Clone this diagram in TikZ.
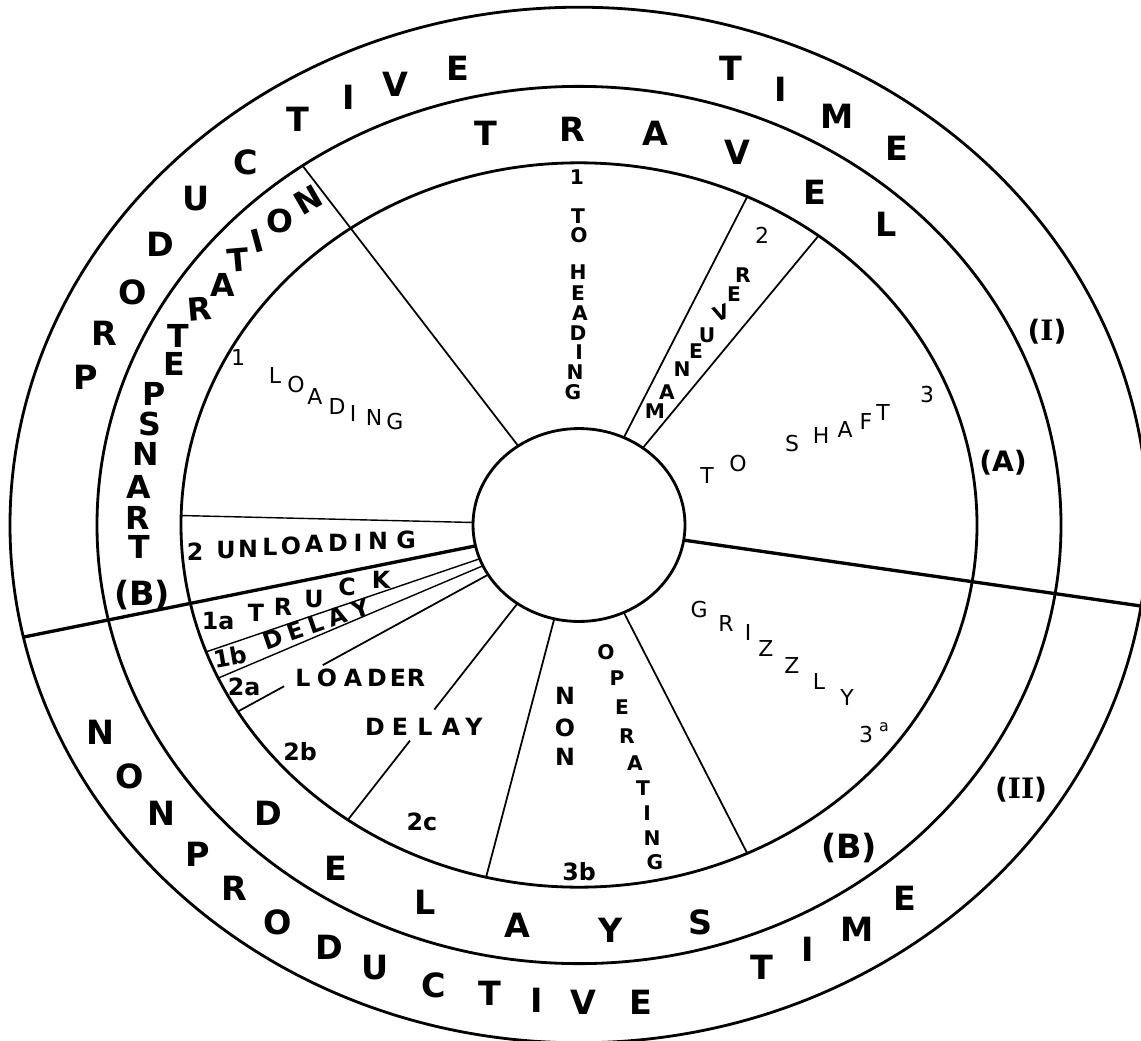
\documentclass[tikz,border=0pt]{standalone}
\usepackage{fontspec}
\setmainfont{DejaVu Sans}
\newfontfamily\romanfont{DejaVu Serif}

\begin{document}
\begin{tikzpicture}[
  x=0.02cm,y=0.02cm,
  ring/.style={line width=1.6pt},
  spoke/.style={line width=1pt},
  split/.style={line width=1.9pt},
  big/.style={font=\fontsize{19}{19}\selectfont\bfseries,inner sep=0pt},
  tall/.style={font=\fontsize{18}{18}\selectfont\bfseries,inner sep=0pt},
  tag/.style={font=\fontsize{16}{16}\selectfont\bfseries,inner sep=0pt},
  lbl/.style={font=\fontsize{13.5}{13.5}\selectfont\bfseries,inner sep=0pt},
  lbls/.style={font=\fontsize{11.5}{11.5}\selectfont\bfseries,inner sep=0pt},
  lbln/.style={font=\fontsize{12.5}{12.5}\selectfont,inner sep=0pt}
]
\path[fill=white,use as bounding box] (0,0) rectangle (1141,-1040);

% rings and spokes
\begin{scope}[shift={(579,-525)},yscale=.91]
\draw[ring] (0,0) circle (106);
\draw[ring] (0,0) circle (398);
\draw[ring] (0,0) circle (482);
\draw[ring] (0,0) circle (569);
\draw[split] (-9:106) -- (-9:569);
\draw[split] (192.5:106) -- (192.5:569);
\draw[spoke] (125:106) -- (125:482);
\foreach \a in {65,53,295,256.5}
  \draw[spoke] (\a:106) -- (\a:398);
\foreach \a in {178.5,200.5,205}
  \draw[spoke,line width=.8pt] (\a:106) -- (\a:398);
\draw[spoke] (211:106) -- (211:299) (211:344) -- (211:398);
\draw[spoke] (234.5:106) -- (234.5:249) (234.5:291) -- (234.5:398);
\end{scope}

% outer ring
\foreach \ch/\x/\y [count=\i] in {P/86/377,R/104/333,O/133/292,D/160/244,U/196/199,C/246/162,T/298/119,I/349/97,V/395/84,E/458/68,T/731/68,I/781/89,M/837/116,E/897/148}
  \node[big] (prod\i) at (\x,-\y) {\ch};
\foreach \ch/\x/\y [count=\i] in {N/100/732,O/130/776,N/161/813,P/198/854,R/234/888,O/278/922,D/329/947,U/375/968,C/434/985,T/490/993,I/537/1000,V/583/1002,E/641/1002,T/762/967,I/808/949,M/857/929,E/905/898}
  \node[big] (nonprod\i) at (\x,-\y) {\ch};
\node[tag] (one) at (1047,-332) {({\romanfont\bfseries I})};
\node[tag] (two) at (1021,-790) {({\romanfont\bfseries II})};

% middle ring
\foreach \ch/\x/\y [count=\i] in {T/486/133,R/572/129,A/655/133,V/737/152,E/815/192,L/886/224}
  \node[big] (travel\i) at (\x,-\y) {\ch};
\foreach \ch/\x/\y [count=\i] in {D/268/813,E/336/868,L/425/902,A/517/925,Y/611/930,S/701/922}
  \node[big] (delays\i) at (\x,-\y) {\ch};
\foreach \ch/\x/\y [count=\i] in {P/154/394,S/150/424,N/146/454,A/139/487,R/138/518,T/139/547}
  \node[tall] (pen\i) at (\x,-\y) {\ch};
\foreach \ch/\x/\y/\r [count=\i] in {E/174/364/0,T/178/336/0,R/200/309/5,A/223/285/0,T/238/260/5,I/257/241/15,O/280/221/0,N/308/200/30}
  \node[tall,rotate=\r] (etr\i) at (\x,-\y) {\ch};
\node[tag] (tagA) at (1003,-463) {(A)};
\node[big] (tagBl) at (142,-595) {(B)};
\node[big] (tagBr) at (849,-848) {(B)};

% inner sectors
\foreach \ch/\x/\y [count=\i] in {1/238/357,L/275/375,O/296/385,A/315/396,D/337/406,I/353/413,N/374/417,G/395/422}
  \node[lbln] (load\i) at (\x,-\y) {\ch};
\foreach \ch/\x/\y [count=\i] in {1/577/177,T/578/216,O/579/235,H/578/272,E/578/293,A/580/313,D/578/333,I/579/352,N/575/372,G/573/392}
  \node[lbls] (head\i) at (\x,-\y) {\ch};
\node[lbln] (mannum) at (762,-235) {2};
\foreach \ch/\x/\y/\r [count=\i] in {M/655/411/0,A/667/392/0,N/682/369/0,E/696/351/0,U/707/335/0,V/721/313/20,E/734/294/0,R/743/275/0}
  \node[lbls,rotate=\r] (man\i) at (\x,-\y) {\ch};
\foreach \ch/\x/\y [count=\i] in {T/707/475,O/738/464,S/792/444,H/821/435,A/845/429,F/866/421,T/883/412,3/927/395}
  \node[lbln] (shaft\i) at (\x,-\y) {\ch};
\foreach \ch/\x/\y [count=\i] in {G/699/609,R/726/623,I/748/632,Z/766/648,Z/792/665,L/819/681,Y/847/697,3/866/734}
  \node[lbln] (griz\i) at (\x,-\y) {\ch};
\node[lbln,font=\fontsize{9}{9}\selectfont] (grizsup) at (884,-727) {a};
\foreach \ch/\x/\y [count=\i] in {N/565/696,O/565/728,N/565/757}
  \node[lbl] (non\i) at (\x,-\y) {\ch};
\foreach \ch/\x/\y [count=\i] in {O/606/652,P/617/678,E/622/707,R/627/736,A/635/763,T/643/788,I/647/813,N/652/838,G/655/862}
  \node[lbls] (oper\i) at (\x,-\y) {\ch};
\node[lbl] (threeb) at (579,-872) {3b};
\node[lbl] (twoc) at (422,-822) {2c};
\node[lbl] (twob) at (300,-752) {2b};
\foreach \ch/\x/\y [count=\i] in {D/375/727,E/400/727,L/425/727,A/451/727,Y/474/727}
  \node[lbl] (ldelay\i) at (\x,-\y) {\ch};
\foreach \ch/\x/\y [count=\i] in {L/303/678,O/327/678,A/353/678,D/377/678,E/398/678,R/416/678}
  \node[lbl] (loader\i) at (\x,-\y) {\ch};
\node[lbl] (twoa) at (244,-687) {2a};
\node[lbl,rotate=10] (oneb) at (230,-657) {1b};
\node[lbl,rotate=19] (tdelay) at (316,-624) {D\hspace{3.5pt}E\hspace{3.5pt}L\hspace{3.5pt}A\hspace{3.5pt}Y};
\node[lbl] (onea) at (218,-621) {1a};
\foreach \ch/\x/\y [count=\i] in {T/256/613,R/283/607,U/314/599,C/347/587,K/381/580}
  \node[lbl] (truck\i) at (\x,-\y) {\ch};
\foreach \ch/\x/\y [count=\i] in {2/195/552,U/226/550,N/248/549,L/270/547,O/291/546,A/314/544,D/338/543,I/358/543,N/378/541,G/406/540}
  \node[lbl] (unload\i) at (\x,-\y) {\ch};
\end{tikzpicture}
\end{document}
